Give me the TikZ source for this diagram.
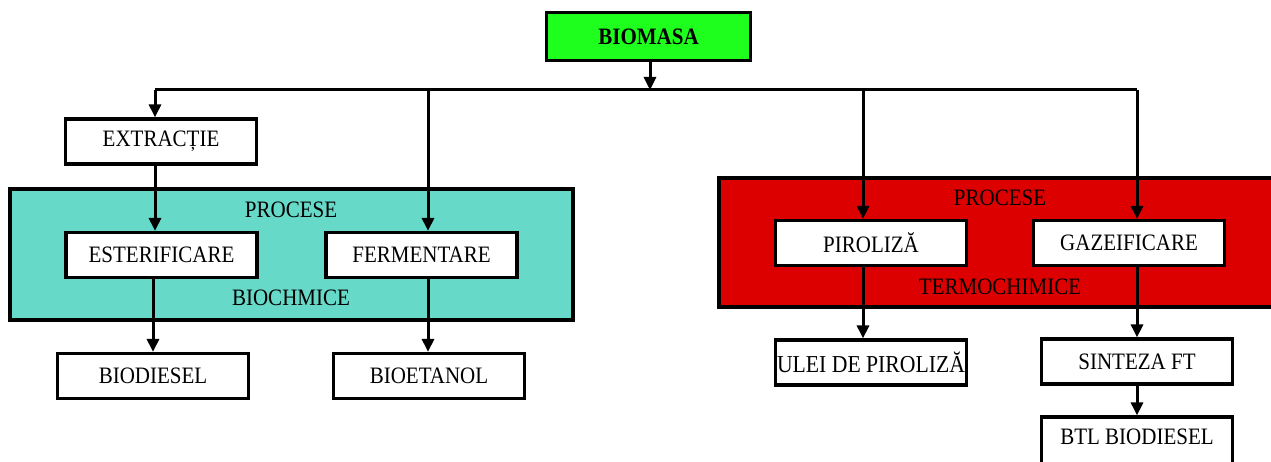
\documentclass[tikz,border=0pt]{standalone}
\usepackage{fontspec}
\setmainfont{Liberation Serif}
\usetikzlibrary{arrows.meta}
\definecolor{biogreen}{RGB}{30,255,30}
\definecolor{bioteal}{RGB}{102,217,200}
\definecolor{biored}{RGB}{221,0,0}
\newcommand{\tallTxt}[1]{\scalebox{1}[1.12]{#1}}
\begin{document}
\begin{tikzpicture}[x=1pt,y=-1pt,
  box/.style={draw=black,line width=3.2pt,fill=white,minimum width=191pt,minimum height=45pt,inner sep=0pt,font=\fontsize{21}{25}\selectfont},
  grp/.style={draw=black,line width=3.2pt},
  lbl/.style={inner sep=0pt,font=\fontsize{21}{25}\selectfont},
  arr/.style={line width=3pt,-{Triangle[length=13pt,width=12pt]}},
  ln/.style={line width=3pt}]
\useasboundingbox (0,0) rectangle (1271,462);
% group backgrounds
\draw[grp,fill=bioteal] (10,189) rectangle (573,320);
\draw[grp,fill=biored] (719,178) rectangle (1290,307);
\node[lbl] (tp) at (291,210) {\tallTxt{PROCESE}};
\node[lbl] (tb) at (291,298) {\tallTxt{BIOCHMICE}};
\node[lbl] (rp) at (1000,198) {\tallTxt{PROCESE}};
\node[lbl] (rt) at (1000,287) {\tallTxt{TERMOCHIMICE}};
% nodes
\node[box,fill=biogreen,minimum width=204pt,minimum height=48pt,font=\fontsize{21}{25}\selectfont\bfseries] (bio) at (648.5,36.5) {\tallTxt{BIOMASA}};
\node[box] (extr) at (161,141.5) {\tallTxt{EXTRACȚIE}};
\node[box] (ester) at (161.5,255) {\tallTxt{ESTERIFICARE}};
\node[box] (ferm) at (421.5,255) {\tallTxt{FERMENTARE}};
\node[box] (biod) at (153,376) {\tallTxt{BIODIESEL}};
\node[box] (bioet) at (429,376) {\tallTxt{BIOETANOL}};
\node[box] (piro) at (871,243) {\tallTxt{PIROLIZĂ}};
\node[box] (gaze) at (1129,243) {\tallTxt{GAZEIFICARE}};
\node[box] (ulei) at (871,362.5) {\resizebox{188pt}{!}{\tallTxt{ULEI DE PIROLIZĂ}}};
\node[box] (sint) at (1137,361.5) {\tallTxt{SINTEZA FT}};
\node[box,minimum height=50pt] (btl) at (1137,442) {\raisebox{10pt}{\tallTxt{BTL BIODIESEL}}};
% bus
\coordinate (jm) at (650,90);
\coordinate (j1) at (155,90);
\coordinate (j2) at (428,90);
\coordinate (j3) at (863,90);
\coordinate (j4) at (1137,90);
\draw[ln] (j1) -- (j4);
\draw[arr] (bio.south -| jm) -- (jm);
\draw[arr] (j1) -- (j1 |- extr.north);
\draw[arr] (j1 |- extr.south) -- (j1 |- ester.north);
\draw[arr] (j2) -- (j2 |- ferm.north);
\coordinate (e1) at (153,0);
\draw[arr] (e1 |- ester.south) -- (e1 |- biod.north);
\draw[arr] (j2 |- ferm.south) -- (j2 |- bioet.north);
\draw[arr] (j3) -- (j3 |- piro.north);
\draw[arr] (j4) -- (j4 |- gaze.north);
\draw[arr] (j3 |- piro.south) -- (j3 |- ulei.north);
\draw[arr] (j4 |- gaze.south) -- (j4 |- sint.north);
\draw[arr] (j4 |- sint.south) -- (j4 |- btl.north);
\end{tikzpicture}
\end{document}
